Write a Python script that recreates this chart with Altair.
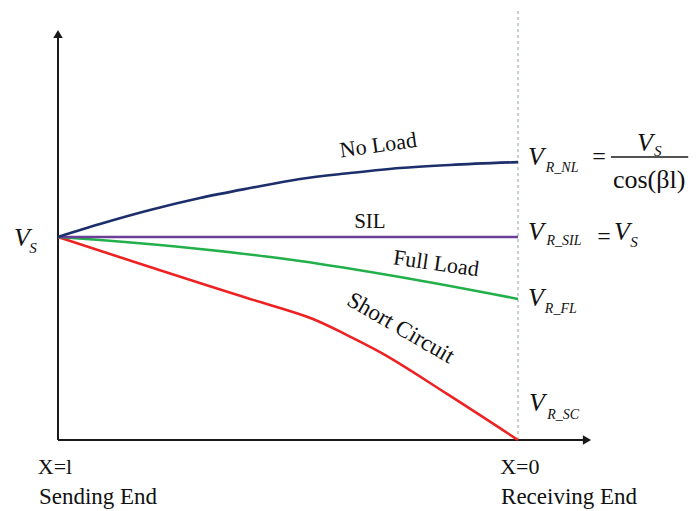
import altair as alt
import pandas as pd

# ---- data (position along line: 0 = sending end, 1 = receiving end; voltage in units of Vs) ----
pos_nl = [0, 0.0913, 0.2, 0.3087, 0.4174, 0.5261, 0.6348, 0.7435, 0.8522, 1.0]
v_nl = [1.0, 1.064, 1.133, 1.192, 1.241, 1.286, 1.315, 1.340, 1.355, 1.369]

pos_sil = [0, 1.0]
v_sil = [1.0, 1.0]

pos_fl = [0, 0.0913, 0.3087, 0.5261, 0.7435, 1.0]
v_fl = [1.0, 0.985, 0.941, 0.882, 0.803, 0.695]

pos_sc = [0, 0.2, 0.4174, 0.4826, 0.5543, 0.6283, 0.7, 0.8457, 1.0]
v_sc = [1.0, 0.852, 0.695, 0.650, 0.596, 0.517, 0.433, 0.227, 0.0]

W, H = 682, 503
XS = alt.Scale(domain=[-50 / 460, (W - 50) / 460], nice=False, zero=False)
YS = alt.Scale(domain=[(432 - H) / 203, 432 / 203], nice=False, zero=False)
FONT = "Liberation Serif"


def X(f="x"):
    return alt.X(f"{f}:Q", scale=XS, axis=None)


def Y(f="y"):
    return alt.Y(f"{f}:Q", scale=YS, axis=None)


def curve(pos, vals, color):
    df = pd.DataFrame({"x": pos, "y": vals})
    return alt.Chart(df).mark_line(color=color, strokeWidth=2.6, interpolate="monotone").encode(x=X(), y=Y())


# axes
axes_df = pd.DataFrame({"x": [0, 0], "y": [0, 0], "x2": [0, 1.145], "y2": [1.99, 0]})
axes = alt.Chart(axes_df).mark_rule(color="#1a1a1a", strokeWidth=2).encode(
    x=X(), y=Y(), x2="x2:Q", y2="y2:Q")
arrow_up = alt.Chart(pd.DataFrame({"x": [0], "y": [2.0]})).mark_point(
    shape="triangle-up", filled=True, color="#1a1a1a", size=90, opacity=1).encode(x=X(), y=Y())
arrow_right = alt.Chart(pd.DataFrame({"x": [1.15], "y": [0]})).mark_point(
    shape="triangle-right", filled=True, color="#1a1a1a", size=90, opacity=1).encode(x=X(), y=Y())

dashed = alt.Chart(pd.DataFrame({"x": [1.0], "y": [0], "y2": [2.118]})).mark_rule(
    color="#8fa0aa", strokeWidth=1, strokeDash=[3, 3]).encode(x=X(), y=Y(), y2="y2:Q")

frac = alt.Chart(pd.DataFrame({"x": [1.202], "x2": [1.370], "y": [1.394]})).mark_rule(
    color="#1a1a1a", strokeWidth=1.3).encode(x=X(), x2="x2:Q", y=Y())

# annotations
upright = pd.DataFrame([
    ("No Load", 0.696, 1.452, 22, 352),
    ("SIL", 0.678, 1.074, 21, 0),
    ("Full Load", 0.822, 0.870, 22, 8),
    ("Short Circuit", 0.745, 0.552, 23, 30),
    ("X=l", -0.0065, -0.133, 22, 0),
    ("Sending End", 0.087, -0.281, 23, 0),
    ("X=0", 1.004, -0.133, 22, 0),
    ("Receiving End", 1.111, -0.281, 23, 0),
    ("=", 1.176, 1.394, 24, 0),
    ("=", 1.187, 1.0, 24, 0),
    ("cos(βl)", 1.285, 1.281, 26, 0),
], columns=["t", "x", "y", "s", "a"])

italic = pd.DataFrame([
    ("V", -0.0783, 0.995, 26),
    ("S", -0.0543, 0.946, 15),
    ("V", 1.039, 1.394, 26),
    ("R_NL", 1.096, 1.340, 14),
    ("V", 1.276, 1.463, 26),
    ("S", 1.304, 1.424, 15),
    ("V", 1.039, 1.025, 26),
    ("R_SIL", 1.100, 0.980, 14),
    ("V", 1.226, 1.025, 26),
    ("S", 1.252, 0.975, 15),
    ("V", 1.039, 0.700, 26),
    ("R_FL", 1.093, 0.645, 14),
    ("V", 1.041, 0.182, 26),
    ("R_SC", 1.098, 0.123, 14),
], columns=["t", "x", "y", "s"])

txt_up = alt.Chart(upright).mark_text(font=FONT, color="#111111", baseline="middle", align="center").encode(
    x=X(), y=Y(), text="t:N", size=alt.Size("s:Q", scale=None), angle=alt.Angle("a:Q", scale=None))
txt_it = alt.Chart(italic).mark_text(font=FONT, fontStyle="italic", color="#111111",
                                     baseline="middle", align="center").encode(
    x=X(), y=Y(), text="t:N", size=alt.Size("s:Q", scale=None))

chart = alt.layer(
    dashed, axes, arrow_up, arrow_right,
    curve(pos_sc, v_sc, "#ee2222"),
    curve(pos_fl, v_fl, "#22b04b"),
    curve(pos_sil, v_sil, "#6b3f98"),
    curve(pos_nl, v_nl, "#1c2f6b"),
    frac, txt_up, txt_it,
).properties(
    width=W, height=H, autosize=alt.AutoSizeParams(type="none"), padding=0,
    background="white",
).configure_view(stroke=None)

chart.save("out.html", embed_options={"renderer": "svg", "actions": False})
